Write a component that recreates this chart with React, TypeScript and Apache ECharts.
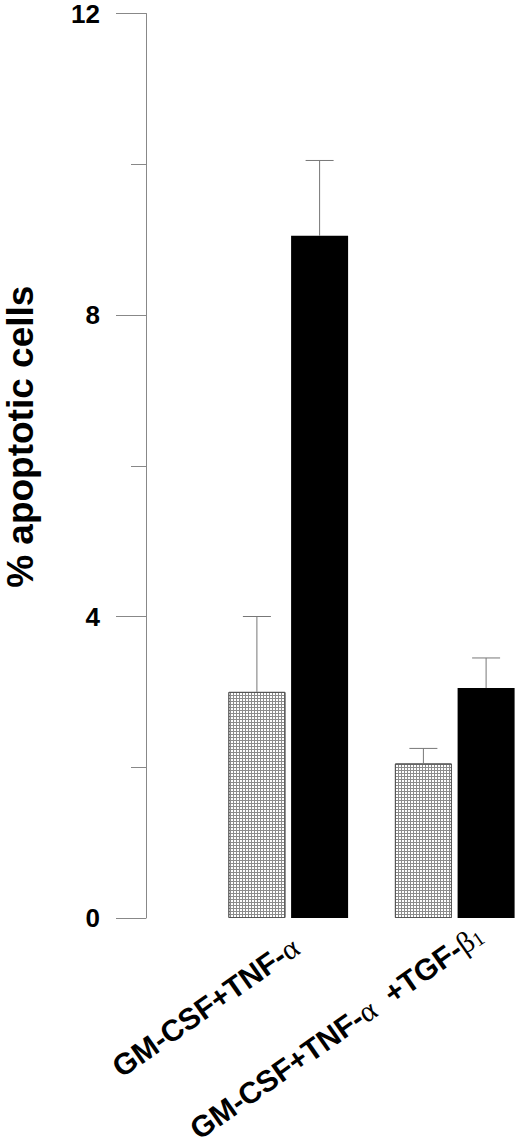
import React, { useEffect, useRef } from "react";
import * as echarts from "echarts";

const categories = ["GM-CSF+TNF-α", "GM-CSF+TNF-α +TGF-β1"];
const grayValues = [3.0, 2.05];
const grayUpper = [4.0, 2.25];
const blackValues = [9.05, 3.05];
const blackUpper = [10.05, 3.45];
const yTicks = [0, 4, 8, 12];

const BAR_W = 57;
const GAP_PCT = 10;

export default function App() {
  const ref = useRef<HTMLDivElement>(null);
  useEffect(() => {
    if (!ref.current) return;
    const chart = echarts.init(ref.current, null, { renderer: "svg" });
    const half = (BAR_W + (BAR_W * GAP_PCT) / 100) / 2;
    const errData: number[][] = [];
    categories.forEach((_, i) => {
      errData.push([i, grayValues[i], grayUpper[i], -1]);
      errData.push([i, blackValues[i], blackUpper[i], 1]);
    });
    const labelFmt = (v: string) => {
      if (v === categories[0]) return "{b|GM-CSF+TNF-}{g|α}";
      return "{b|GM-CSF+TNF-}{g|α}{b|  +TGF-}{g|β}{s|1}";
    };
    chart.setOption({
      animation: false,
      grid: {
        left: 205,
        right: -18,
        top: 13.5,
        bottom: 229,
        containLabel: false,
        outerBoundsMode: "none",
      },
      xAxis: {
        type: "category",
        data: [
          { value: categories[0], textStyle: { padding: [0, -9, 0, 0] } },
          { value: categories[1], textStyle: { padding: [0, -30, 0, 0] } },
        ],
        axisLine: { show: false },
        axisTick: { show: false },
        axisLabel: {
          rotate: 35,
          margin: 31,
          interval: 0,
          formatter: labelFmt,
          rich: {
            b: { fontFamily: "Liberation Sans", fontWeight: "bold", fontSize: 30, color: "#000" },
            g: { fontFamily: "Liberation Serif", fontWeight: "normal", fontSize: 30, color: "#000" },
            s: { fontFamily: "Liberation Serif", fontWeight: "normal", fontSize: 20, color: "#000", verticalAlign: "bottom" },
          },
        },
      },
      yAxis: {
        type: "value",
        min: 0,
        max: 12,
        interval: 4,
        offset: 59,
        name: "% apoptotic cells",
        nameLocation: "middle",
        nameRotate: 90,
        nameGap: 107,
        nameTextStyle: {
          fontFamily: "Liberation Sans",
          fontWeight: "bold",
          fontSize: 37,
          color: "#000",
          padding: [0, 0, 0, 58],
        },
        axisLine: { show: true, lineStyle: { color: "#888", width: 1 } },
        axisTick: { show: true, length: 30, lineStyle: { color: "#888", width: 1 } },
        minorTick: { show: true, splitNumber: 2, length: 15, lineStyle: { color: "#888", width: 1 } },
        splitLine: { show: false },
        minorSplitLine: { show: false },
        axisLabel: {
          margin: 46,
          fontFamily: "Liberation Sans",
          fontWeight: "bold",
          fontSize: 26,
          color: "#000",
          formatter: (v: number) => (yTicks.includes(v) ? String(v) : ""),
        },
      },
      series: [
        {
          type: "bar",
          data: grayValues,
          barWidth: BAR_W,
          barGap: GAP_PCT + "%",
          itemStyle: {
            color: "#8c8c8c",
            borderColor: "#555",
            borderWidth: 1,
            decal: {
              symbol: "rect",
              symbolSize: 1,
              color: "#ffffff",
              dashArrayX: [2, 1],
              dashArrayY: [2, 1],
              rotation: 0,
            },
          },
          z: 2,
        },
        {
          type: "bar",
          data: blackValues,
          barWidth: BAR_W,
          barGap: GAP_PCT + "%",
          itemStyle: { color: "#000", borderColor: "#000", borderWidth: 0 },
          z: 2,
        },
        {
          type: "custom",
          data: errData,
          z: 3,
          renderItem: (params: any, api: any) => {
            const c = api.value(0);
            const v = api.value(1);
            const hi = api.value(2);
            const side = api.value(3);
            const p0 = api.coord([c, v]);
            const p1 = api.coord([c, hi]);
            const x = p0[0] + side * half;
            const capHalf = 14;
            return {
              type: "group",
              children: [
                { type: "line", shape: { x1: x, y1: p0[1], x2: x, y2: p1[1] }, style: { stroke: "#777", lineWidth: 1 } },
                { type: "line", shape: { x1: x - capHalf, y1: p1[1], x2: x + capHalf, y2: p1[1] }, style: { stroke: "#777", lineWidth: 1 } },
              ],
            };
          },
        },
      ],
    });
    return () => chart.dispose();
  }, []);
  return <div ref={ref} style={{ position: "absolute", left: 0, top: 0, width: 520, height: 1147 }} />;
}
